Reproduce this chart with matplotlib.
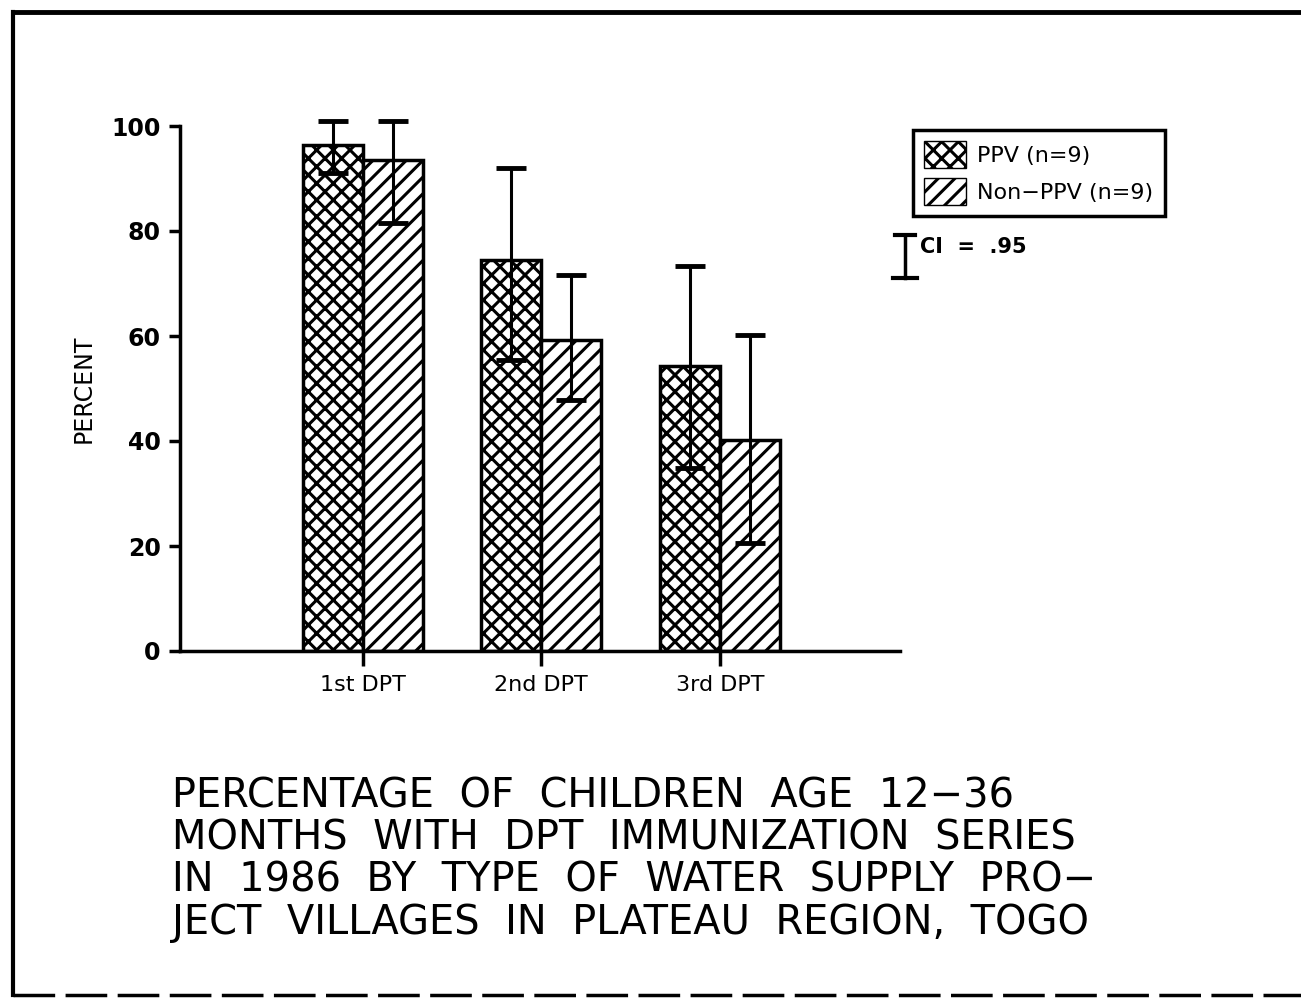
import numpy as np
import matplotlib
matplotlib.use("Agg")
import matplotlib.pyplot as plt
from matplotlib.lines import Line2D
from matplotlib.patches import Patch

# values
categories = ["1st DPT", "2nd DPT", "3rd DPT"]
ppv = [96.4, 74.5, 54.3]
ppv_hi = [101.0, 92.0, 73.3]
ppv_lo = [91.0, 55.4, 34.9]
non_ppv = [93.5, 59.2, 40.2]
non_hi = [101.0, 71.6, 60.2]
non_lo = [81.5, 47.8, 20.6]
yticks = [0, 20, 40, 60, 80, 100]
title_lines = [
    "PERCENTAGE  OF  CHILDREN  AGE  12\u221236",
    "MONTHS  WITH  DPT  IMMUNIZATION  SERIES",
    "IN  1986  BY  TYPE  OF  WATER  SUPPLY  PRO\u2212",
    "JECT  VILLAGES  IN  PLATEAU  REGION,  TOGO",
]

plt.rcParams["hatch.linewidth"] = 2.2
plt.rcParams["font.family"] = "DejaVu Sans"

W, H = 1301, 999
fig = plt.figure(figsize=(W / 100, H / 100), dpi=100)

def fx(px):
    return px / W

def fy(py):
    return 1 - py / H

ax = fig.add_axes([fx(180), fy(651), fx(900) - fx(180), fy(126) - fy(651)])

x = np.arange(len(categories))
w = 0.336
ax.bar(x - w / 2, ppv, w, facecolor="white", edgecolor="black", hatch="xx", linewidth=2.5)
ax.bar(x + w / 2, non_ppv, w, facecolor="white", edgecolor="black", hatch="//", linewidth=2.5)

for xs, vals, hi, lo in [(x - w / 2, ppv, ppv_hi, ppv_lo), (x + w / 2, non_ppv, non_hi, non_lo)]:
    vals = np.array(vals)
    err = [vals - np.array(lo), np.array(hi) - vals]
    eb = ax.errorbar(xs, vals, yerr=err, fmt="none", ecolor="black", elinewidth=2.2,
                     capsize=11, capthick=3.5)
    for art in eb.lines[1] + eb.lines[2]:
        art.set_clip_on(False)

ax.set_xlim(-1.025, 3.01)
ax.set_ylim(0, 100)
ax.spines["top"].set_visible(False)
ax.spines["right"].set_visible(False)
for s in ("left", "bottom"):
    ax.spines[s].set_linewidth(2.5)
ax.set_yticks(yticks)
ax.set_yticklabels([str(v) for v in yticks], fontsize=17, fontweight="bold")
ax.set_xticks(x)
ax.set_xticklabels(categories, fontsize=16)
ax.tick_params(axis="y", length=8, width=2.5, pad=6)
ax.tick_params(axis="x", length=11, width=2.5, pad=6)
ax.set_ylabel("PERCENT", fontsize=17, labelpad=11)

leg = fig.legend(handles=[Patch(facecolor="white", edgecolor="black", hatch="xx", label="PPV (n=9)"),
                          Patch(facecolor="white", edgecolor="black", hatch="//", label="Non\u2212PPV (n=9)")],
                 loc="upper left", bbox_to_anchor=(fx(913), fy(130)), borderaxespad=0,
                 fontsize=16, frameon=True, fancybox=False, edgecolor="black", framealpha=1,
                 handlelength=1.9, handleheight=1.5, handletextpad=0.5, borderpad=0.5,
                 labelspacing=0.45)
leg.get_frame().set_linewidth(2.5)

# CI key
fig.add_artist(Line2D([fx(905), fx(905)], [fy(235), fy(278)], color="black", lw=2.5))
fig.add_artist(Line2D([fx(895), fx(915)], [fy(235), fy(235)], color="black", lw=3))
fig.add_artist(Line2D([fx(893), fx(917)], [fy(278), fy(278)], color="black", lw=3))
fig.text(fx(920), fy(247), "CI  =  .95", fontsize=15, fontweight="bold", va="center")

for i, line in enumerate(title_lines):
    fig.text(fx(172), fy(797 + 42 * i), line, fontsize=28.8, va="center", ha="left")

# page border
fig.add_artist(Line2D([fx(13), fx(13)], [fy(12), fy(995)], color="black", lw=3))
fig.add_artist(Line2D([fx(13), fx(1301)], [fy(12), fy(12)], color="black", lw=3.5))
fig.add_artist(Line2D([fx(13), fx(1301)], [fy(995), fy(995)], color="black", lw=2.5,
                      linestyle=(0, (12, 3))))

fig.savefig("out.png", dpi=100)
